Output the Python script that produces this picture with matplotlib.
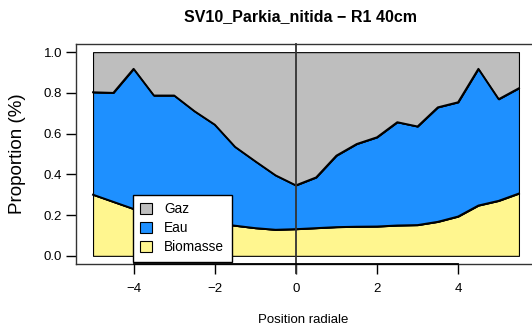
import matplotlib
matplotlib.use("Agg")
import matplotlib.pyplot as plt
from matplotlib.patches import Patch

plt.rcParams['font.family'] = ['Liberation Sans', 'DejaVu Sans']

# Radial positions and stacked proportions
position = [-5.0, -4.5, -4.0, -3.5, -3.0, -2.5, -2.0, -1.5, -1.0, -0.5, 0.0,
            0.5, 1.0, 1.5, 2.0, 2.5, 3.0, 3.5, 4.0, 4.5, 5.0, 5.5]
biomasse = [0.300, 0.265, 0.230, 0.210, 0.190, 0.175, 0.160, 0.148, 0.136, 0.128, 0.131,
            0.136, 0.141, 0.143, 0.144, 0.149, 0.151, 0.167, 0.193, 0.247, 0.270, 0.306]
eau = [0.503, 0.535, 0.688, 0.577, 0.597, 0.535, 0.484, 0.387, 0.328, 0.267, 0.215,
       0.249, 0.351, 0.406, 0.438, 0.507, 0.484, 0.562, 0.561, 0.671, 0.499, 0.517]
gaz = [0.197, 0.200, 0.082, 0.213, 0.213, 0.290, 0.356, 0.465, 0.536, 0.605, 0.654,
       0.615, 0.508, 0.451, 0.418, 0.344, 0.365, 0.271, 0.246, 0.082, 0.231, 0.177]
series_names = ["Biomasse", "Eau", "Gaz"]
colors = ["#FFF68F", "#1E90FF", "#BEBEBE"]
xticks = [-4, -2, 0, 2, 4]
yticks = [0.0, 0.2, 0.4, 0.6, 0.8, 1.0]

W, H = 532, 336
fig = plt.figure(figsize=(W / 100, H / 100), dpi=100)

# plot region in pixels
left, right, top, bottom = 76, 536, 44, 264
ax = fig.add_axes([left / W, 1 - bottom / H, (right - left) / W, (bottom - top) / H])
ax.set_xlim(-5.42, 5.92)
ax.set_ylim(-0.04, 1.04)

ax.stackplot(position, biomasse, eau, gaz, colors=colors,
             edgecolor="black", linewidth=0.8, zorder=2)

# boundary lines between layers
cum1 = [b for b in biomasse]
cum2 = [b + e for b, e in zip(biomasse, eau)]
ax.plot(position, cum1, color="black", lw=1.4, zorder=3)
ax.plot(position, cum2, color="black", lw=1.4, zorder=3)

# vertical reference at the centre
ax.plot([0, 0], [-0.084, 1.04], color="#333333", lw=1.3, clip_on=False, zorder=4)

for s in ax.spines.values():
    s.set_color("#333333")
    s.set_linewidth(1.0)

ax.set_xticks(xticks)
ax.set_xticklabels([f"{t:d}".replace("-", "\u2212") for t in xticks])
ax.set_yticks(yticks)
ax.set_yticklabels([f"{t:.1f}" for t in yticks])
ax.tick_params(axis="both", direction="out", length=7, width=1, colors="black",
               labelsize=9.5)
ax.tick_params(axis="x", pad=7)
ax.tick_params(axis="y", pad=3)

# x axis line spanning the ticks
ax.plot([xticks[0], xticks[-1]], [-0.04, -0.04], color="black", lw=1.3,
        clip_on=False, zorder=5)

fig.text(301 / W, 1 - 17 / H, "SV10_Parkia_nitida \u2212 R1 40cm",
         ha="center", va="center", fontsize=11.5, fontweight="bold")
fig.text(303 / W, 1 - 320 / H, "Position radiale", ha="center", va="center",
         fontsize=9.5)
fig.text(18 / W, 1 - 154 / H, "Proportion (%)", ha="center", va="center",
         rotation=90, fontsize=13.5)

handles = [Patch(facecolor=colors[2], edgecolor="black", lw=0.8, label="Gaz"),
           Patch(facecolor=colors[1], edgecolor="black", lw=0.8, label="Eau"),
           Patch(facecolor=colors[0], edgecolor="black", lw=0.8, label="Biomasse")]
leg = ax.legend(handles=handles, loc="upper left",
                bbox_to_anchor=(133 / W, 1 - 195 / H), bbox_transform=fig.transFigure,
                fontsize=9.8, fancybox=False, framealpha=1, edgecolor="black",
                handlelength=0.85, handleheight=0.85, handletextpad=0.9,
                borderpad=0.55, labelspacing=0.35, borderaxespad=0)
leg.get_frame().set_linewidth(1.0)
leg.set_zorder(6)

fig.savefig("out.png", dpi=100)
